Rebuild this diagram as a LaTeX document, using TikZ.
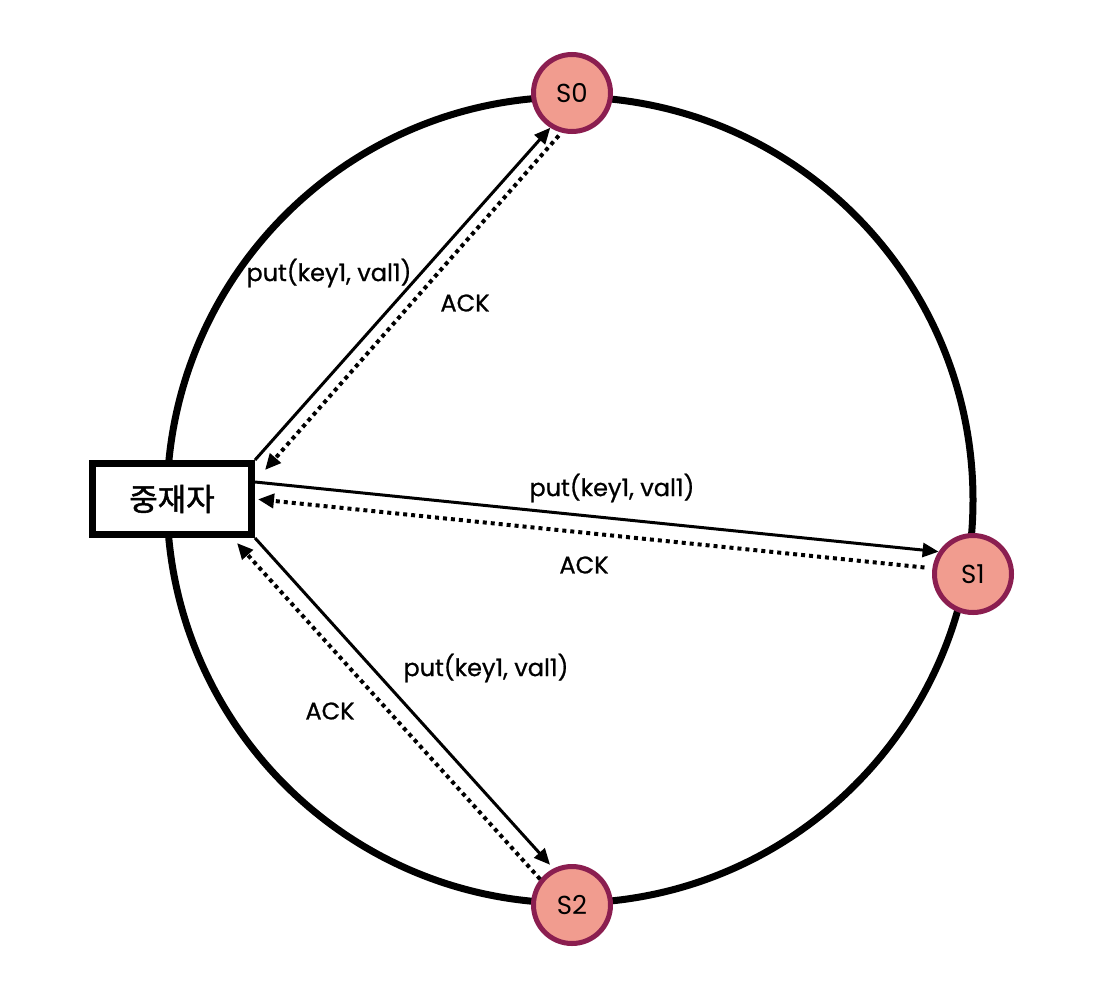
\documentclass[tikz,border=0pt]{standalone}
\usepackage{fontspec}
\setmainfont{Poppins}
\newfontfamily\kofont[FakeBold=1.5]{Noto Sans CJK KR}
\newfontfamily\lblfont[FakeBold=0.8]{Poppins}
\usetikzlibrary{arrows.meta}
\definecolor{srvfill}{HTML}{F19C8F}
\definecolor{srvedge}{HTML}{8B1E50}
\definecolor{ink}{HTML}{000000}

\tikzset{
  srv/.style={circle, fill=srvfill, draw=srvedge, line width=5pt,
    minimum size=77pt, inner sep=0pt, font=\fontsize{26}{30}\selectfont},
  mediator/.style={draw=ink, fill=white, line width=7pt, minimum width=159pt,
    minimum height=71pt, font=\kofont\fontsize{31}{35}\selectfont},
  msg/.style={line width=3pt, -{Triangle[length=16pt,width=14pt]}},
  ack/.style={line width=4pt, dash pattern=on 4pt off 4pt,
    -{Triangle[length=16pt,width=14pt]}},
  lbl/.style={font=\lblfont\fontsize{24}{28}\selectfont, inner sep=0pt}
}

\begin{document}
\begin{tikzpicture}[x=1pt,y=-1pt]
  \useasboundingbox (0,0) rectangle (1100,1004);

  % ---- the ring -----------------------------------------------------------
  \draw[ink,line width=7pt] (570,500) circle (403);

  % ---- mediator and servers -----------------------------------------------
  \node[mediator] (med) at (172,499) {중재자};
  \node[srv] (s0) at (572,93) {S0};
  \node[srv] (s1) at (973,574) {S1};
  \node[srv] (s2) at (572,905) {S2};

  % free ends of the replies, just off the box
  \coordinate (ack0) at (265,470);
  \coordinate (ack2) at (237,543);

  % ---- requests -----------------------------------------------------------
  \draw[msg] (med.north east) -- (s0.238);
  \draw[msg] ([yshift=17pt]med.east) -- (s1.147);
  \draw[msg,shorten >=5pt] (med.south east) -- (s2.117);

  % ---- replies ------------------------------------------------------------
  \draw[ack,shorten <=4pt] (s0.255) -- (ack0);
  \draw[ack,shorten <=8pt,shorten >=3pt] (s1.172) -- (med.east);
  \draw[ack] (s2.141) -- (ack2);

  % ---- labels -------------------------------------------------------------
  \node[lbl] (put0) at (329,273) {put(key1, val1)};
  \node[lbl] (ok0) at (465,303) {ACK};
  \node[lbl] (put1) at (612,488) {put(key1, val1)};
  \node[lbl] (ok1) at (584,565) {ACK};
  \node[lbl] (put2) at (486,668) {put(key1, val1)};
  \node[lbl] (ok2) at (330,711) {ACK};
\end{tikzpicture}
\end{document}
